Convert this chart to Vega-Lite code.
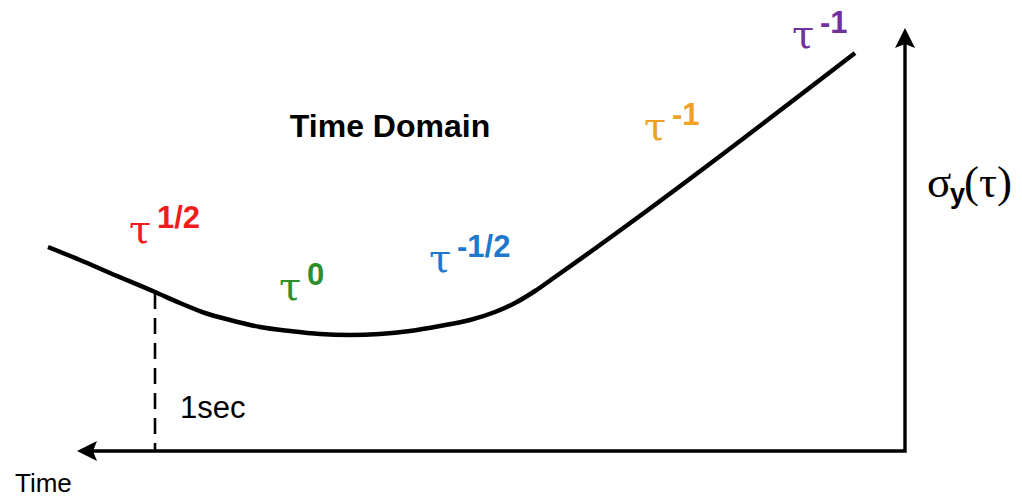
{
  "$schema": "https://vega.github.io/schema/vega-lite/v6.json",
  "width": 1022,
  "height": 499,
  "autosize": {"type": "fit", "contains": "padding"},
  "padding": 0,
  "background": "white",
  "config": {"view": {"stroke": null}},
  "datasets": {
    "curve": [
      {"x": 48, "y": 252}, {"x": 80, "y": 239}, {"x": 110, "y": 226}, {"x": 155, "y": 207},
      {"x": 180, "y": 196}, {"x": 205, "y": 186}, {"x": 230, "y": 179}, {"x": 260, "y": 172},
      {"x": 290, "y": 168}, {"x": 320, "y": 165}, {"x": 350, "y": 164}, {"x": 380, "y": 165},
      {"x": 410, "y": 168}, {"x": 440, "y": 173}, {"x": 470, "y": 179}, {"x": 495, "y": 187},
      {"x": 515, "y": 196}, {"x": 535, "y": 208}, {"x": 555, "y": 222}, {"x": 855, "y": 446}
    ],
    "marker": [{"x": 155, "y": 206}, {"x": 155, "y": 49}],
    "frame": [
      {"seq": 1, "x": 92, "y": 48},
      {"seq": 2, "x": 905, "y": 48},
      {"seq": 3, "x": 905, "y": 459}
    ],
    "arrows": [
      {"dir": "left", "x": 77, "y": 48},
      {"dir": "up", "x": 905, "y": 471}
    ],
    "regimes": [
      {"regime": "Random Walk FM", "exponent": "1/2", "x": 129, "y": 256},
      {"regime": "Flicker FM", "exponent": "0", "x": 279, "y": 199},
      {"regime": "White FM", "exponent": "-1/2", "x": 429, "y": 227},
      {"regime": "Flicker PM", "exponent": "-1", "x": 644, "y": 359},
      {"regime": "White PM", "exponent": "-1", "x": 792, "y": 451}
    ],
    "notes": [
      {"role": "title", "text": "Time Domain", "x": 390, "y": 362},
      {"role": "note", "text": "1sec", "x": 180, "y": 81},
      {"role": "xname", "text": "Time", "x": 15, "y": 7},
      {"role": "ymain", "text": "σ", "x": 927, "y": 302},
      {"role": "ysub", "text": "y", "x": 950, "y": 296},
      {"role": "ymain", "text": "(τ)", "x": 964, "y": 302}
    ]
  },
  "encoding": {
    "x": {"field": "x", "type": "quantitative", "scale": {"domain": [0, 1022], "nice": false, "zero": false}, "axis": null},
    "y": {"field": "y", "type": "quantitative", "scale": {"domain": [0, 499], "nice": false, "zero": false}, "axis": null}
  },
  "layer": [
    {
      "data": {"name": "marker"},
      "mark": {"type": "line", "color": "black", "strokeWidth": 2.6, "strokeDash": [16, 9]},
      "encoding": {}
    },
    {
      "data": {"name": "frame"},
      "mark": {"type": "line", "color": "black", "strokeWidth": 3.4, "strokeJoin": "miter"},
      "encoding": {"order": {"field": "seq"}}
    },
    {
      "data": {"name": "arrows"},
      "mark": {"type": "point", "filled": true, "color": "black", "opacity": 1, "size": 1600},
      "encoding": {
        "shape": {
          "field": "dir",
          "type": "nominal",
          "scale": {
            "domain": ["left", "up"],
            "range": ["M0,0 L1,-0.5 L0.8,0 L1,0.5 Z", "M0,0 L0.5,1 L0,0.8 L-0.5,1 Z"]
          },
          "legend": null
        }
      }
    },
    {
      "data": {"name": "curve"},
      "mark": {"type": "line", "color": "black", "strokeWidth": 4.5, "interpolate": "monotone"},
      "encoding": {}
    },
    {
      "data": {"name": "regimes"},
      "mark": {"type": "text", "text": "τ", "align": "left", "baseline": "alphabetic", "font": "DejaVu Serif", "fontSize": 40},
      "encoding": {
        "color": {
          "field": "regime",
          "type": "nominal",
          "scale": {
            "domain": ["Random Walk FM", "Flicker FM", "White FM", "Flicker PM", "White PM"],
            "range": ["#f01c1c", "#2f8f2a", "#1f78cc", "#f0a024", "#7030a0"]
          },
          "legend": null
        }
      }
    },
    {
      "data": {"name": "regimes"},
      "mark": {"type": "text", "align": "left", "baseline": "alphabetic", "font": "Liberation Sans", "fontWeight": "bold", "fontSize": 31, "dx": 28, "dy": -15},
      "encoding": {
        "text": {"field": "exponent"},
        "color": {"field": "regime", "type": "nominal", "legend": null}
      }
    },
    {
      "data": {"name": "notes"},
      "transform": [{"filter": "datum.role === 'title'"}],
      "mark": {"type": "text", "align": "center", "baseline": "alphabetic", "font": "Liberation Sans", "fontWeight": "bold", "fontSize": 32, "color": "black"},
      "encoding": {"text": {"field": "text"}}
    },
    {
      "data": {"name": "notes"},
      "transform": [{"filter": "datum.role === 'note'"}],
      "mark": {"type": "text", "align": "left", "baseline": "alphabetic", "font": "Liberation Sans", "fontSize": 31, "color": "black"},
      "encoding": {"text": {"field": "text"}}
    },
    {
      "data": {"name": "notes"},
      "transform": [{"filter": "datum.role === 'xname'"}],
      "mark": {"type": "text", "align": "left", "baseline": "alphabetic", "font": "Liberation Sans", "fontSize": 26, "color": "black"},
      "encoding": {"text": {"field": "text"}}
    },
    {
      "data": {"name": "notes"},
      "transform": [{"filter": "datum.role === 'ymain'"}],
      "mark": {"type": "text", "align": "left", "baseline": "alphabetic", "font": "Liberation Serif", "fontSize": 45, "color": "black"},
      "encoding": {"text": {"field": "text"}}
    },
    {
      "data": {"name": "notes"},
      "transform": [{"filter": "datum.role === 'ysub'"}],
      "mark": {"type": "text", "align": "left", "baseline": "alphabetic", "font": "Liberation Sans", "fontWeight": "bold", "fontSize": 27, "color": "black"},
      "encoding": {"text": {"field": "text"}}
    }
  ]
}
